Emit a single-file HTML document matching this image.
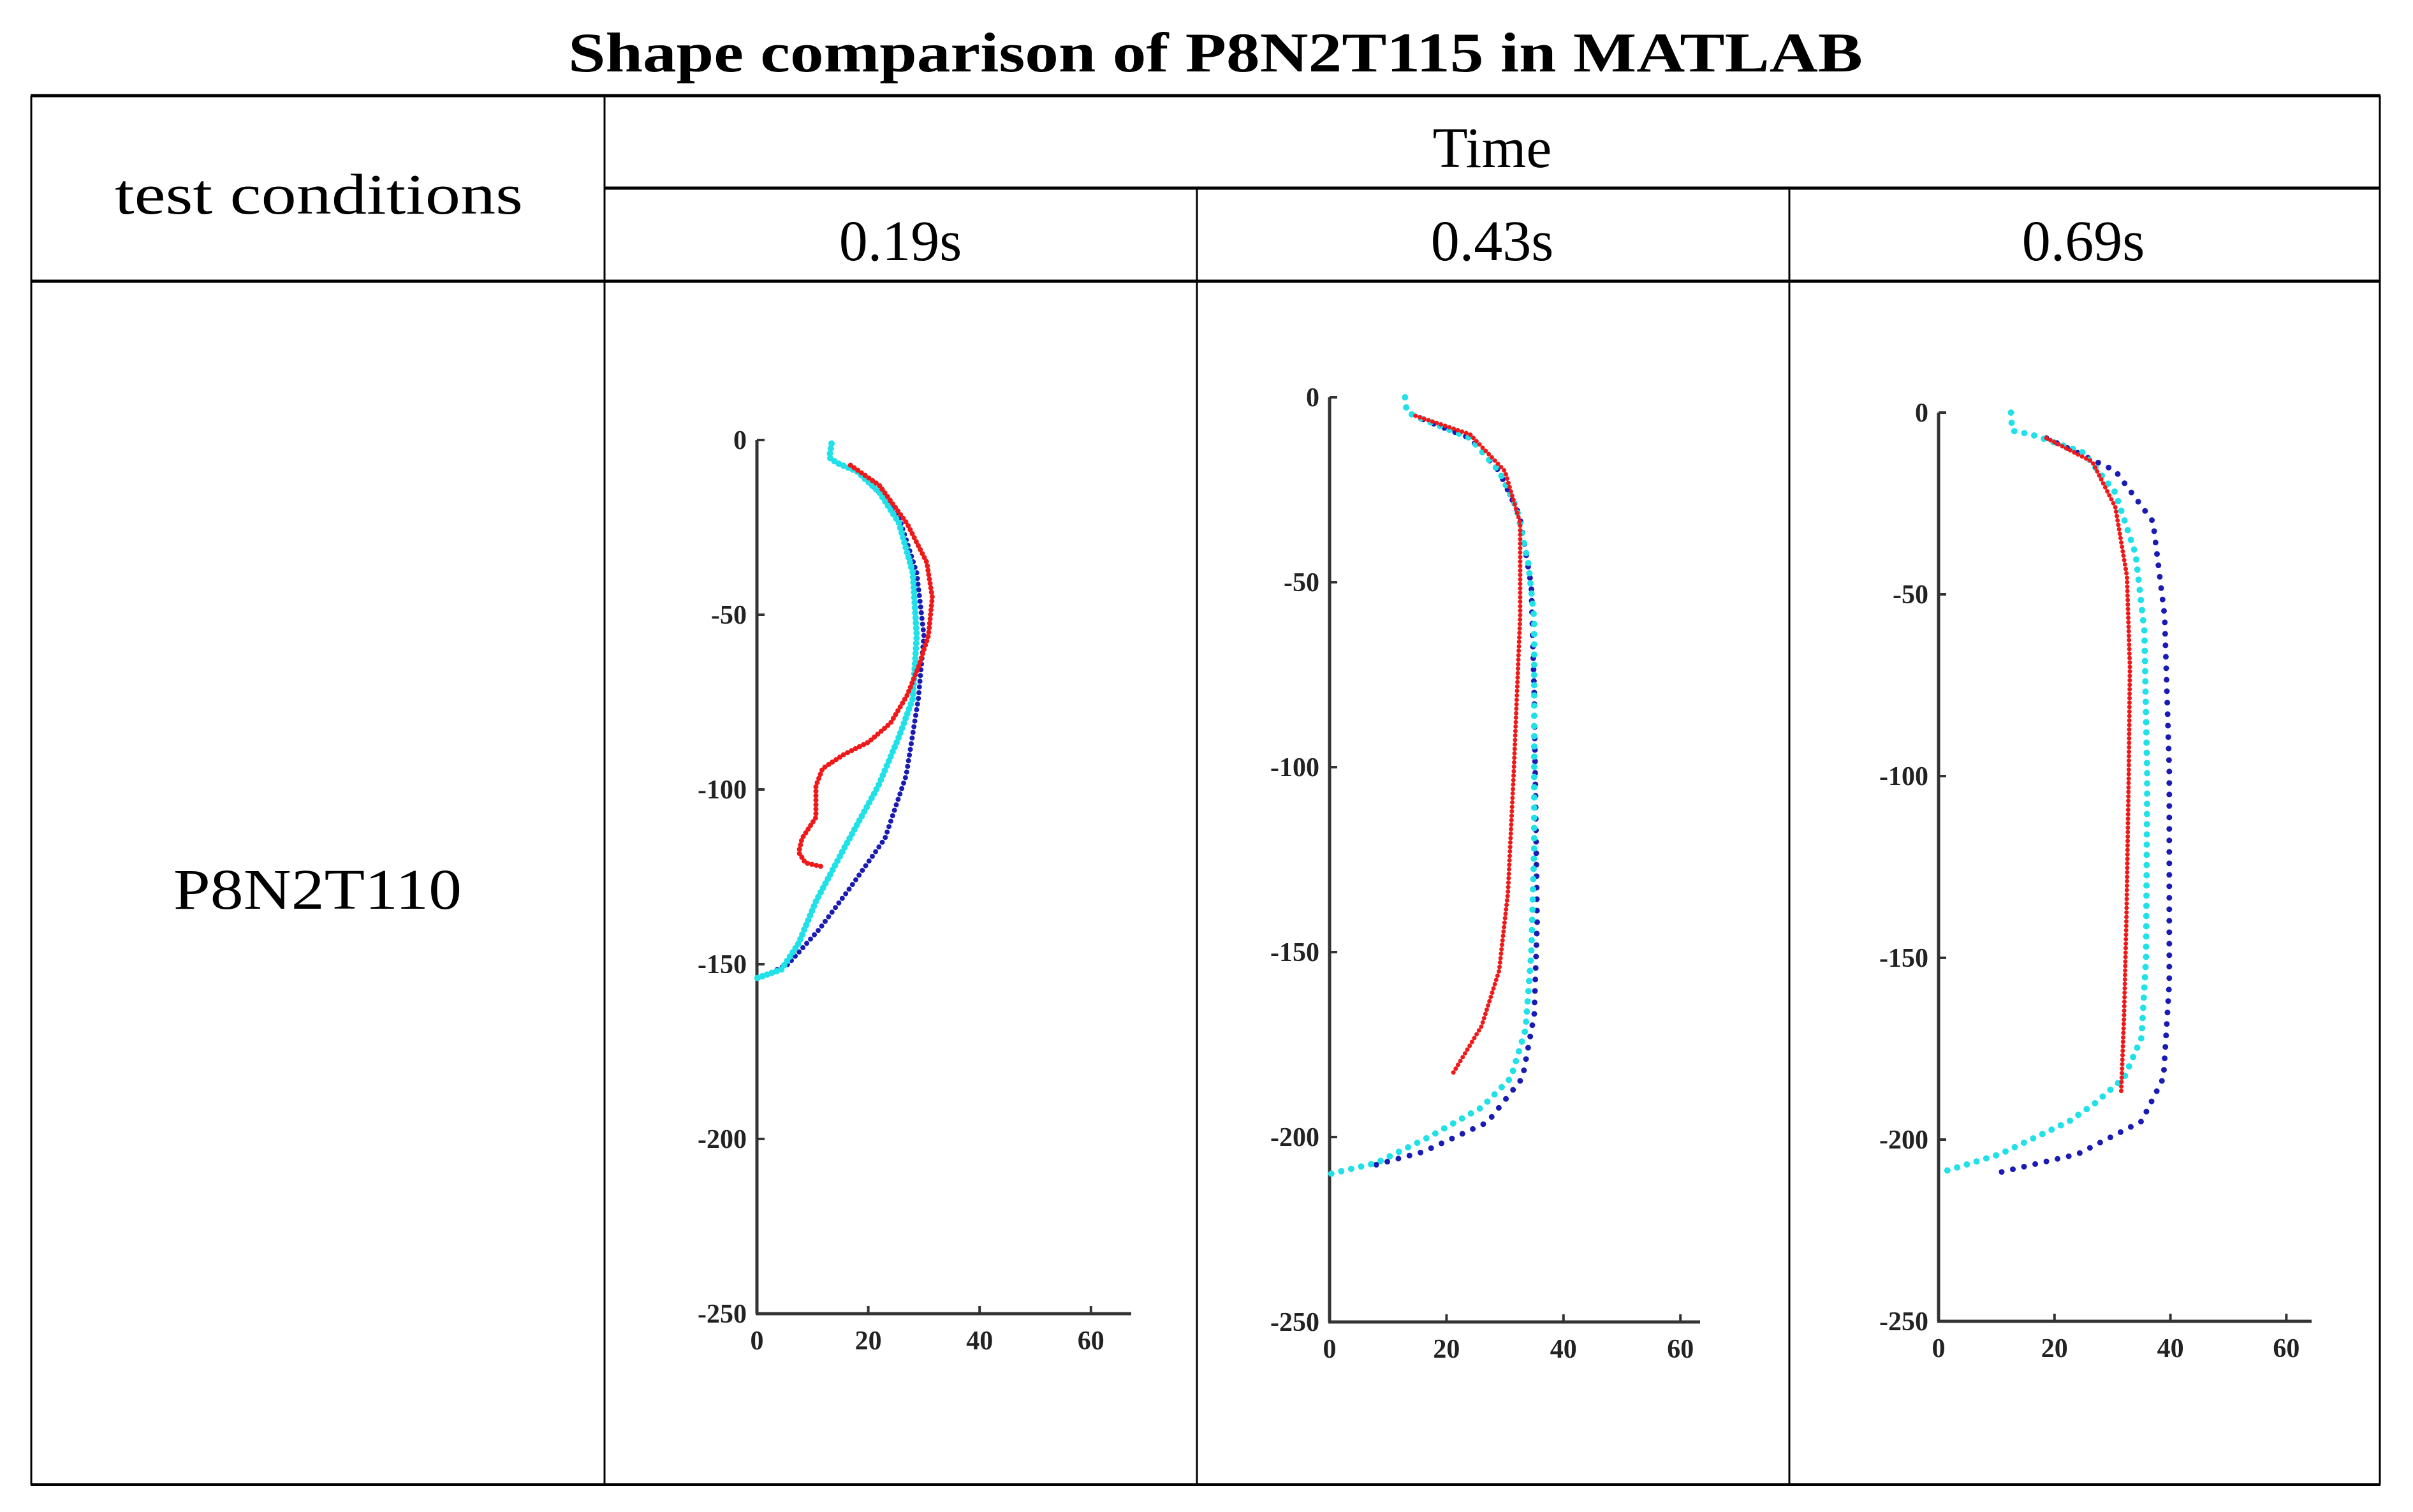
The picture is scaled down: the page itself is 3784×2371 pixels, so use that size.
<!DOCTYPE html>
<html><head><meta charset="utf-8"><style>
html,body{margin:0;padding:0;background:#fff;}
svg{display:block;}
</style></head><body>
<svg id="root" width="3784" height="2371" viewBox="0 0 3784 2371" xmlns="http://www.w3.org/2000/svg">
<text x="1906" y="112" text-anchor="middle" font-family="Liberation Serif, serif" font-weight="bold" font-size="88" textLength="2030" lengthAdjust="spacingAndGlyphs">Shape comparison of P8N2T115 in MATLAB</text>
<g stroke="#000" fill="none">
<line x1="48" y1="150" x2="3733" y2="150" stroke-width="5"/>
<line x1="948" y1="295" x2="3733" y2="295" stroke-width="5"/>
<line x1="48" y1="441" x2="3733" y2="441" stroke-width="5"/>
<line x1="48" y1="2328" x2="3733" y2="2328" stroke-width="4"/>
<line x1="49" y1="150" x2="49" y2="2328" stroke-width="3"/>
<line x1="948" y1="150" x2="948" y2="2328" stroke-width="3"/>
<line x1="1877" y1="295" x2="1877" y2="2328" stroke-width="3"/>
<line x1="2806" y1="295" x2="2806" y2="2328" stroke-width="3"/>
<line x1="3732" y1="150" x2="3732" y2="2328" stroke-width="3"/>
</g>
<g font-family="Liberation Serif, serif" font-size="90" fill="#000">
<text x="500" y="335" text-anchor="middle" textLength="640" lengthAdjust="spacingAndGlyphs">test conditions</text>
<text x="2340" y="262" text-anchor="middle">Time</text>
<text x="1412" y="408" text-anchor="middle">0.19s</text>
<text x="2340" y="408" text-anchor="middle">0.43s</text>
<text x="3267" y="408" text-anchor="middle">0.69s</text>
<text x="498" y="1425" text-anchor="middle" textLength="452" lengthAdjust="spacingAndGlyphs">P8N2T110</text>
</g>
<g id="charts"></g>
</svg>
<script>
// Panel 1 (0.19s) series [x, y]
const p1Red = [[16.8,-7.2],[22,-13],[27,-24],[30.5,-35],[31.5,-45],[30.8,-56],[29,-65],[27,-73],[24,-81],[20,-86.5],[15.6,-90],[11.8,-94],[10.6,-99],[10.6,-108],[8.1,-114],[7.5,-118],[8.7,-121],[11.5,-122]];
const p1Cyan = [[13.4,-1],[13,-5],[14.3,-6.5],[18,-9],[22,-15],[25.5,-23.7],[28,-38],[28.7,-56],[28,-74],[25.5,-85],[21.8,-99],[15.6,-117],[10.6,-132],[7.5,-144],[4.4,-151.5],[0,-154]];
const p1Blue = [[18,-9],[22,-15],[25.5,-22],[28.7,-38],[30,-56],[29,-74],[26.8,-96],[23,-114],[16.8,-128],[11.2,-140],[5.6,-150],[3,-152]];
// Panel 2 (0.43s)
const p2Cyan = [[12.9,0],[13.2,-4],[16,-6],[24,-11],[29,-20],[32,-30],[34,-45],[35,-60],[35,-80],[35,-121],[34.5,-150],[33.5,-171],[31,-184],[26,-192],[17,-200],[8,-207],[0,-210]];
const p2Blue = [[16,-6],[24,-11],[29,-20],[32.5,-32],[34.5,-51],[35,-80],[35.5,-142],[35,-167],[33,-184],[27,-196],[16,-204],[6.8,-208]];
const p2Red = [[14.7,-5],[24,-10],[30,-20],[32.6,-34],[32.6,-59],[31.5,-101],[30.5,-134],[29,-155],[26,-170],[21,-183]];
// Panel 3 (0.69s)
const p3Cyan = [[12.5,0],[12.7,-5],[16,-6],[25,-11],[30.5,-22],[34,-39],[35.5,-60],[36,-100],[35.8,-150],[35,-172],[32,-183],[27,-190],[22.5,-195],[10.6,-204],[0.5,-209]];
const p3Blue = [[18.6,-7],[30.5,-16],[37,-30],[39,-56],[39.8,-98],[39.8,-157],[38.8,-183],[35,-195],[24,-204],[10.6,-209]];
const p3Red = [[18.6,-7],[26.5,-13.5],[30.5,-26],[32.5,-45],[33,-70],[32.8,-100],[32.4,-140],[32,-166],[31.5,-187]];
const xTicks = [0,20,40,60];
const yTicks = [0,-50,-100,-150,-200,-250];

const NS='http://www.w3.org/2000/svg';
const root=document.getElementById('charts');
function mk(tag,attrs,parent){const e=document.createElementNS(NS,tag);for(const k in attrs)e.setAttribute(k,attrs[k]);parent.appendChild(e);return e;}

const panels=[
 {name:'0.19s',x0:1187,y0:690,sx:8.73,sy:5.48,xEnd:1774,series:[['blue',p1Blue,'#1a1ab4',8,9],['cyan',p1Cyan,'#20e0e8',10,8],['red',p1Red,'#f01818',8,7]]},
 {name:'0.43s',x0:2085,y0:623,sx:9.17,sy:5.80,xEnd:2666,series:[['blue',p2Blue,'#1a1ab4',9,18],['cyan',p2Cyan,'#20e0e8',10,16],['red',p2Red,'#f01818',7,7]]},
 {name:'0.69s',x0:3040,y0:647,sx:9.09,sy:5.70,xEnd:3625,series:[['blue',p3Blue,'#1a1ab4',9,18],['cyan',p3Cyan,'#20e0e8',10,16],['red',p3Red,'#f01818',7,7]]}
];
panels.forEach(p=>{
 const X=v=>p.x0+v*p.sx, Y=v=>p.y0-v*p.sy;
 const g=mk('g',{},root);
 
 
 const yb=Y(-250);
 const ya=mk('line',{x1:X(0),y1:Y(0),x2:X(0),y2:yb,stroke:'#333',"stroke-width":5},g);
 
 
 const xa=mk('line',{x1:X(0)-2,y1:yb,x2:p.xEnd,y2:yb,stroke:'#333',"stroke-width":5},g);
 
 
 yTicks.forEach(t=>{
  mk('line',{x1:X(0),y1:Y(t),x2:X(0)+12,y2:Y(t),stroke:'#333',"stroke-width":4},g);
  const tx=mk('text',{x:X(0)-16,y:Y(t)+14,"text-anchor":"end","font-family":"Liberation Serif, serif","font-weight":"bold","font-size":42,fill:'#222'},g);
  tx.textContent=String(t);
  
  
 });
 xTicks.forEach(t=>{
  mk('line',{x1:X(t),y1:yb,x2:X(t),y2:yb-12,stroke:'#333',"stroke-width":4},g);
  const tx=mk('text',{x:X(t),y:yb+56,"text-anchor":"middle","font-family":"Liberation Serif, serif","font-weight":"bold","font-size":42,fill:'#222'},g);
  tx.textContent=String(t);
  
  
 });
 p.series.forEach(s=>{
  const pts=s[1].map(d=>X(d[0]).toFixed(1)+','+Y(d[1]).toFixed(1)).join(' ');
  const pl=mk('polyline',{points:pts,fill:'none',stroke:s[2],"stroke-width":s[3],"stroke-linecap":"round","stroke-linejoin":"round","stroke-dasharray":"0 "+s[4]},g);
  
  
 });
});
</script>
</body></html>
